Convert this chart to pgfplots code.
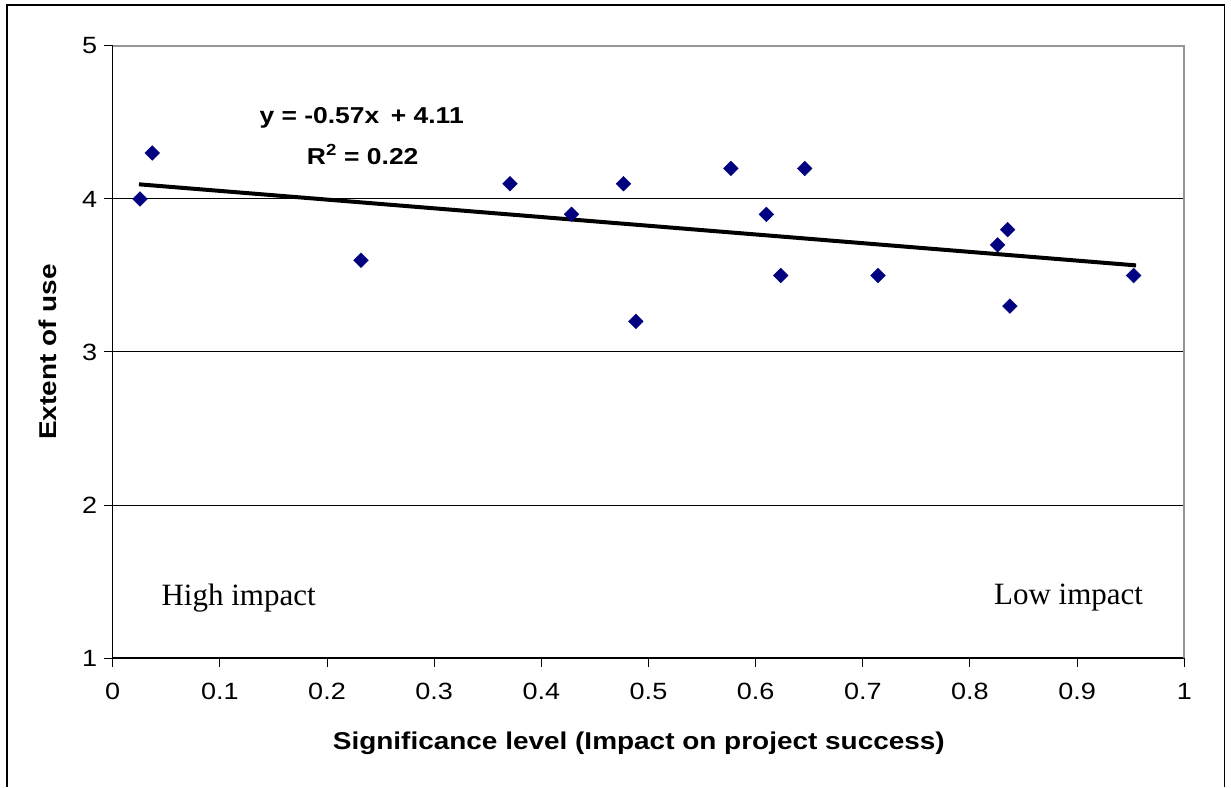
\documentclass[border=0pt]{standalone}
\usepackage{fontspec}
\setmainfont{Liberation Sans}[FakeStretch=1.15]
\newfontfamily\timesfont{Liberation Serif}
\usepackage{pgfplots}
\pgfplotsset{compat=1.18}
\definecolor{navy}{RGB}{0,0,128}
\definecolor{framegray}{RGB}{150,150,150}
\begin{document}
\begin{tikzpicture}[x=1pt,y=1pt]
\path (0,0) rectangle (1231,787);
\draw[line width=1.6pt] (6.7,0) -- (6.7,782) -- (1224.3,782) -- (1224.3,0);
\begin{axis}[
  at={(112.7pt,129pt)}, anchor=south west,
  scale only axis, width=1071.6pt, height=612pt,
  xmin=0, xmax=1, ymin=1, ymax=5,
  axis x line=bottom, axis y line=left,
  axis line style={-, black, line width=1.4pt},
  xtick={0,0.1,0.2,0.3,0.4,0.5,0.6,0.7,0.8,0.9,1},
  xticklabels={0,0.1,0.2,0.3,0.4,0.5,0.6,0.7,0.8,0.9,1},
  ytick={1,2,3,4,5},
  yticklabels={1,2,3,4,5},
  tick align=outside,
  major tick length=9pt,
  tick style={black, line width=1pt},
  ymajorgrids,
  grid style={black, line width=1pt},
  /pgf/number format/assume math mode=true,
  tick label style={font=\fontsize{23.5}{27}\selectfont},
  xticklabel style={yshift=-13pt},
  yticklabel style={xshift=-3pt},
  label style={font=\fontsize{24.3}{28}\bfseries\selectfont},
  xlabel={Significance level (Impact on project success)},
  ylabel={Extent of use},
  xlabel style={at={(axis description cs:0.491,-0.139)}, anchor=center},
  ylabel style={at={(axis description cs:-0.0604,0.5)}, anchor=center},
  clip=false,
]
\addplot[only marks, mark=square*, mark size=5.2pt,
  mark options={rotate=45, fill=navy, draw=navy}] coordinates {
  (0.0255,4.0) (0.0369,4.3) (0.2317,3.6) (0.3707,4.1) (0.4282,3.9)
  (0.4767,4.1) (0.4882,3.2) (0.5769,4.2) (0.6100,3.9) (0.6235,3.5)
  (0.6458,4.2) (0.7142,3.5) (0.8258,3.7) (0.8351,3.8) (0.8373,3.3)
  (0.9527,3.5)
};
\addplot[black, line width=4pt] coordinates {(0.0245,4.096) (0.955,3.566)};
\draw[framegray, line width=2pt] (rel axis cs:0,1) -- (rel axis cs:1,1) -- (rel axis cs:1,0);
\node[font=\fontsize{23}{27}\bfseries\selectfont] at (axis cs:0.2323,4.529) {y = -0.57x\enspace+ 4.11};
\node[font=\fontsize{23}{27}\bfseries\selectfont] at (axis cs:0.2333,4.288) {R\textsuperscript{2} = 0.22};
\node[font=\timesfont\fontsize{31}{36}\selectfont] at (axis cs:0.1175,1.392) {High impact};
\node[font=\timesfont\fontsize{31}{36}\selectfont] at (axis cs:0.892,1.392) {Low impact};
\end{axis}
\end{tikzpicture}
\end{document}
